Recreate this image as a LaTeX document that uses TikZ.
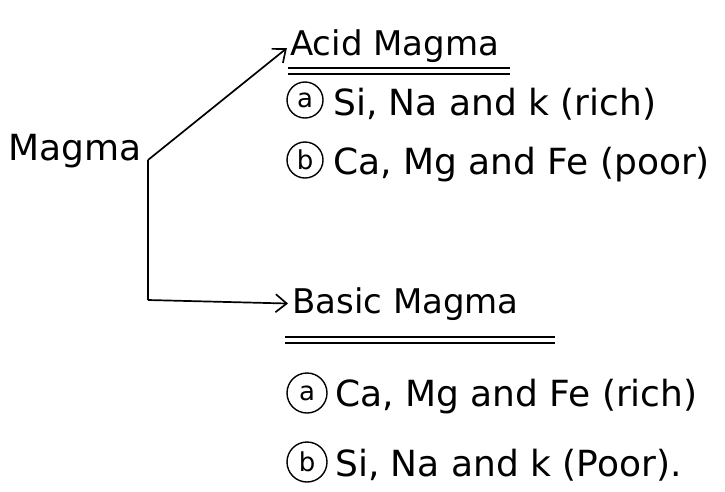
\documentclass[tikz,border=0pt]{standalone}
\usepackage{fontspec}
\setmainfont{DejaVu Sans}
\usetikzlibrary{arrows.meta}
\begin{document}
\begin{tikzpicture}[x=1pt,y=-1pt,
  txt/.style={anchor=base west,inner sep=0pt,font=\fontsize{36}{42}\selectfont},
  head/.style={anchor=base west,inner sep=0pt,font=\fontsize{34}{40}\selectfont},
  lbl/.style={circle,draw,line width=1.4pt,inner sep=1pt,minimum size=36pt,font=\fontsize{26}{30}\selectfont},
  arr/.style={line width=1.7pt,shorten >=4pt,-{Straight Barb[length=11pt,width=18pt,line width=1.7pt]}},
  ul/.style={line width=1.6pt}]
\useasboundingbox (0,0) rectangle (725,491);
\node[head,font=\fontsize{36}{42}\selectfont] (magma) at (8,160) {Magma};
\coordinate (c1) at (148,160);
\coordinate (c2) at (148,300);
\node[head] (acid) at (290,55) {Acid Magma};
\draw[ul] (288,68) -- (510,68) (288,74) -- (510,74);
\node[lbl] (ca1) at (305,100) {a};
\node[txt] (ta1) at (333,115) {Si, Na and k (rich)};
\node[lbl] (cb1) at (305,160) {b};
\node[txt] (tb1) at (333,174) {Ca, Mg and Fe (poor)};
\node[head] (basic) at (292,313) {Basic Magma};
\draw[ul] (285,337) -- (555,337) (285,343) -- (555,343);
\node[lbl,minimum size=40pt] (ca2) at (307,393) {a};
\node[txt] (ta2) at (335,406) {Ca, Mg and Fe (rich)};
\node[lbl,minimum size=40pt] (cb2) at (307,462) {b};
\node[txt] (tb2) at (335,476) {Si, Na and k (Poor).};
\draw[line width=1.7pt] (c2) -- (c1);
\draw[arr] (c1) -- (acid.west);
\draw[arr] (c2) -- (basic.west);
\end{tikzpicture}
\end{document}
